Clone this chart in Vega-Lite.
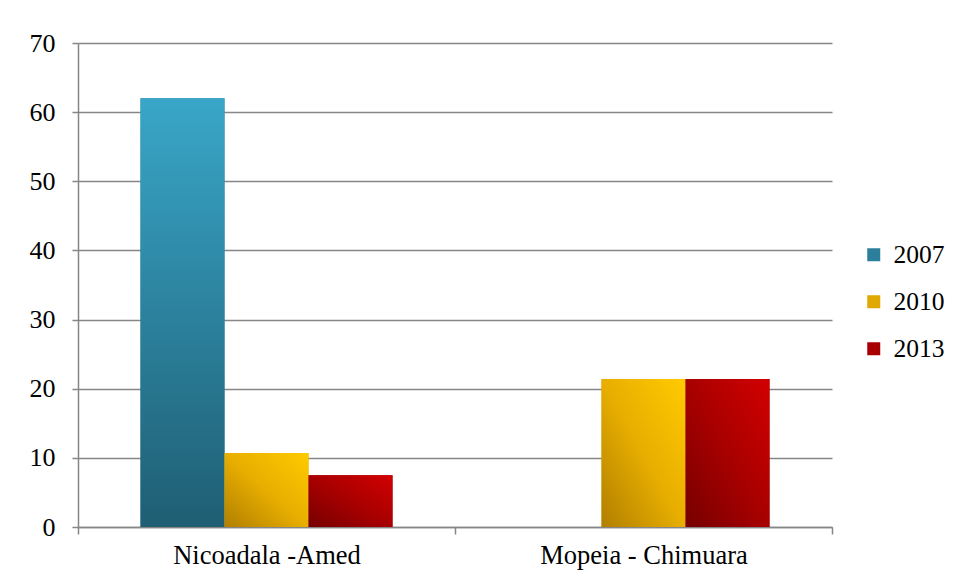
{
  "$schema": "https://vega.github.io/schema/vega-lite/v6.json",
  "width": 754,
  "height": 484,
  "autosize": {"type": "none"},
  "padding": {"left": 78, "top": 43, "right": 127, "bottom": 55},
  "background": "white",
  "config": {
    "view": {"stroke": null},
    "font": "Liberation Serif",
    "axis": {"labelFont": "Liberation Serif", "labelFontSize": 26, "labelLimit": 0},
    "legend": {"labelFont": "Liberation Serif", "labelFontSize": 25.5, "labelLimit": 0}
  },
  "data": {
    "values": [
      {"site": "Nicoadala -Amed", "year": "2007", "value": 62},
      {"site": "Nicoadala -Amed", "year": "2010", "value": 10.7},
      {"site": "Nicoadala -Amed", "year": "2013", "value": 7.5},
      {"site": "Mopeia - Chimuara", "year": "2010", "value": 21.4},
      {"site": "Mopeia - Chimuara", "year": "2013", "value": 21.4}
    ]
  },
  "encoding": {
    "x": {
      "field": "site", "type": "nominal", "sort": null,
      "scale": {"paddingInner": 0, "paddingOuter": 0},
      "axis": {
        "title": null, "labelAngle": 0, "tickBand": "extent", "tickSize": 7,
        "tickColor": "#868686", "tickWidth": 1.5, "domainColor": "#868686", "domainWidth": 1.5,
        "labelFont": "Liberation Serif", "labelFontSize": 26.5, "labelColor": "#000000", "labelPadding": 8, "grid": false
      }
    },
    "xOffset": {"field": "year", "type": "nominal", "sort": ["2007", "2010", "2013"], "scale": {"domain": ["2007", "2010", "2013"], "paddingInner": 0, "paddingOuter": 0.744}},
    "y": {
      "field": "value", "type": "quantitative",
      "scale": {"domain": [0, 70], "nice": false},
      "axis": {
        "title": null, "values": [0, 10, 20, 30, 40, 50, 60, 70], "grid": true,
        "gridColor": "#868686", "gridWidth": 1.5, "domainColor": "#868686", "domainWidth": 1.5,
        "tickColor": "#868686", "tickWidth": 1.5, "tickSize": 6,
        "labelFont": "Liberation Serif", "labelFontSize": 26, "labelColor": "#000000", "labelPadding": 17
      }
    }
  },
  "layer": [
    {
      "mark": {"type": "bar"},
      "encoding": {
        "color": {
          "field": "year", "type": "nominal",
          "scale": {"domain": ["2007", "2010", "2013"], "range": ["#2C7F9B", "#E0A800", "#A80000"]},
          "legend": {
            "title": null, "orient": "none", "legendX": 783, "legendY": 199,
            "symbolType": "square", "symbolSize": 169, "symbolStrokeWidth": 0,
            "labelFont": "Liberation Serif", "labelFontSize": 25.5, "labelColor": "#000000", "labelOffset": 7, "rowPadding": 20,
            "encode": {
              "symbols": {
                "update": {
                  "fill": {"signal": "datum.value === '2007' ? {gradient: 'linear', x1: 0, y1: 0, x2: 0, y2: 1, stops: [{offset: 0, color: '#39A6C8'}, {offset: 1, color: '#1F5E73'}]} : datum.value === '2010' ? {gradient: 'linear', x1: 0, y1: 1, x2: 1, y2: 0, stops: [{offset: 0, color: '#B07F00'}, {offset: 1, color: '#FFCB00'}]} : {gradient: 'linear', x1: 0, y1: 1, x2: 1, y2: 0, stops: [{offset: 0, color: '#760000'}, {offset: 1, color: '#D20000'}]}"}
                }
              }
            }
          }
        }
      }
    },
    {
      "transform": [{"filter": "datum.year === '2007'"}],
      "mark": {"type": "bar", "fill": {"gradient": "linear", "x1": 0, "y1": 0, "x2": 0, "y2": 1, "stops": [{"offset": 0, "color": "#39A6C8"}, {"offset": 1, "color": "#1F5E73"}]}}
    },
    {
      "transform": [{"filter": "datum.year === '2010'"}],
      "mark": {"type": "bar", "fill": {"gradient": "linear", "x1": 0, "y1": 1, "x2": 1, "y2": 0, "stops": [{"offset": 0, "color": "#B07F00"}, {"offset": 0.5, "color": "#E8AE00"}, {"offset": 1, "color": "#FFCB00"}]}}
    },
    {
      "transform": [{"filter": "datum.year === '2013'"}],
      "mark": {"type": "bar", "fill": {"gradient": "linear", "x1": 0, "y1": 1, "x2": 1, "y2": 0, "stops": [{"offset": 0, "color": "#760000"}, {"offset": 0.5, "color": "#A80000"}, {"offset": 1, "color": "#D20000"}]}}
    }
  ]
}
